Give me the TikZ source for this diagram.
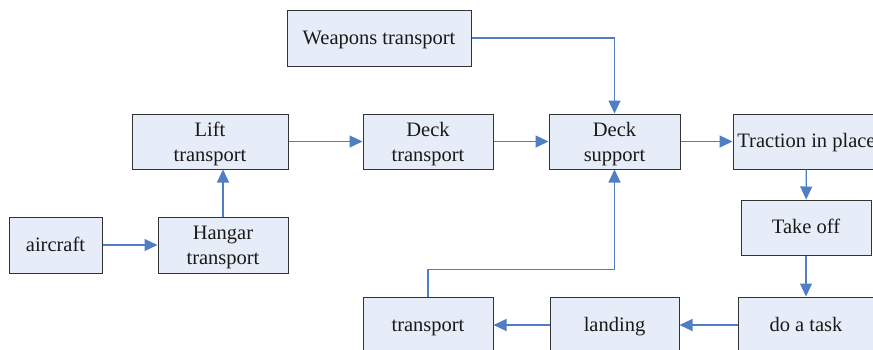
\documentclass[tikz,border=0pt]{standalone}
\usepackage{fontspec}
\setmainfont{Liberation Serif}
\usetikzlibrary{arrows.meta}
\definecolor{boxfill}{HTML}{E7EDF8}
\definecolor{boxline}{HTML}{333333}
\definecolor{flow}{HTML}{4F7EC2}
\tikzset{
  stage/.style={draw=boxline, fill=boxfill, line width=1pt, inner sep=0pt,
    minimum height=55pt, align=center, text=black!90,
    font=\fontsize{20.5}{25}\selectfont, text height=16.5pt, text depth=4.5pt},
  stagetwo/.style={stage, text height=43.5pt, text depth=4.5pt},
  flowline/.style={draw=flow, line width=1.2pt},
  flowarrow/.style={flowline, -{Triangle[length=13pt,width=12pt]}}
}
\begin{document}
\begin{tikzpicture}[x=1pt,y=-1pt]
\useasboundingbox (0,0) rectangle (873,349);
% boxes
\node[stage, minimum width=184pt, minimum height=56pt] (weapons) at (379,38) {Weapons transport};
\node[stagetwo, minimum width=156pt] (lift) at (210,141.5) {Lift\\transport};
\node[stagetwo, minimum width=130pt] (decktr) at (428,141.5) {Deck\\transport};
\node[stagetwo, minimum width=131pt] (decksup) at (614.5,141.5) {Deck\\support};
\node[stage, minimum width=147pt] (traction) at (806.5,141.5) {Traction in place};
\node[stage, minimum width=130pt] (takeoff) at (806,227.5) {Take off};
\node[stage, minimum width=136pt, minimum height=56pt] (task) at (806,325) {do a task};
\node[stage, minimum width=129pt, minimum height=56pt] (landing) at (614.5,325) {landing};
\node[stage, minimum width=130pt, minimum height=56pt] (transport) at (428,325) {transport};
\node[stage, minimum width=93pt, minimum height=56pt] (aircraft) at (55.5,245) {aircraft};
\node[stagetwo, minimum width=130pt, minimum height=56pt] (hangar) at (223,245) {Hangar\\transport};
% connectors
\draw[flowarrow] (aircraft) -- (hangar);
\draw[flowarrow] (hangar.north) -- (hangar.north |- lift.south);
\draw[flowarrow] (lift) -- (decktr);
\draw[flowarrow] (decktr) -- (decksup);
\draw[flowarrow] (decksup) -- (traction);
\draw[flowarrow] (weapons.east) -| (decksup.north);
\draw[flowarrow] (traction) -- (takeoff);
\draw[flowarrow] (takeoff) -- (task);
\draw[flowarrow] (task) -- (landing);
\draw[flowarrow] (landing) -- (transport);
\draw[flowarrow] (transport.north) -- ++(0,-27) -| (decksup.south);
\end{tikzpicture}
\end{document}
